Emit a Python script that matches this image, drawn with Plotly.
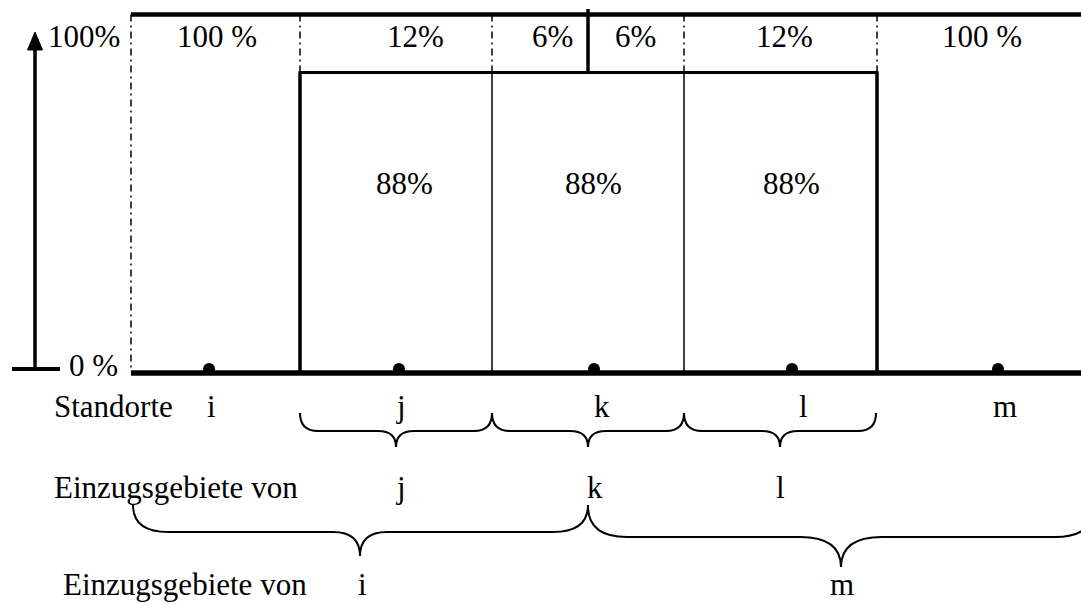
import plotly.graph_objects as go

# ---------------- data (labels / values) ----------------
locations = ["i", "j", "k", "l", "m"]
top_shares = ["100 %", "12%", "6%", "6%", "12%", "100 %"]
inner_shares = ["88%", "88%", "88%"]
axis_labels = ["100%", "0 %"]
row_titles = ["Standorte", "Einzugsgebiete von", "Einzugsgebiete von"]
catch_small = ["j", "k", "l"]
catch_large = ["i", "m"]

# ---------------- diagram geometry (diagram units = px) ----------------
W, H = 1081, 605
Y_TOP, Y_BOX, Y_BASE = 14.5, 72.5, 373
bounds = [131, 300, 492, 684, 877]          # region boundaries
mid_x = 588                                   # split between k's 6% shares
loc_x = [209, 399, 594, 792, 998]             # dots of Standorte
loc_label_x = [211, 401, 602, 803, 1005]
top_label_x = [217, 415, 552, 635, 784, 982]
inner_label_x = [404, 593, 791]
small_label_x = [401, 595, 780]
large_label_x = [362, 842]

FONT = "Liberation Serif, Times New Roman, serif"
FS = 31

fig = go.Figure()

# dots
fig.add_trace(go.Scatter(x=loc_x, y=[369] * len(loc_x), mode="markers",
                         marker=dict(size=12, color="black"),
                         hoverinfo="skip", showlegend=False))

shapes = []


def line(x0, y0, x1, y1, w, dash="solid"):
    shapes.append(dict(type="line", xref="x", yref="y", x0=x0, y0=y0, x1=x1, y1=y1,
                       line=dict(color="black", width=w, dash=dash), layer="above"))


DD = "7px,4px,2px,4px"
# dash-dot verticals in top band and left
line(bounds[0], Y_TOP, bounds[0], Y_BASE - 2, 1.5, DD)
for bx in bounds[1:]:
    line(bx, Y_TOP, bx, Y_BOX, 1.5, DD)

# top & base thick lines
line(bounds[0], Y_TOP, W + 5, Y_TOP, 4.5)
line(bounds[0], Y_BASE, W + 5, Y_BASE, 5.5)

# box
line(bounds[1] - 1.5, Y_BOX, bounds[4] + 1.5, Y_BOX, 3)
line(bounds[1], Y_BOX, bounds[1], Y_BASE, 3.5)
line(bounds[4], Y_BOX, bounds[4], Y_BASE, 3.5)
line(bounds[2], Y_BOX, bounds[2], Y_BASE, 1.5)
line(bounds[3], Y_BOX, bounds[3], Y_BASE, 1.5)
line(mid_x, 9, mid_x, Y_BOX, 3.5)

# left axis arrow
line(35, 369, 35, 46, 3.5)
line(12, 369, 60, 369, 4)
shapes.append(dict(type="path", xref="x", yref="y", path="M 35,32 L 27.5,50 L 42.5,50 Z",
                   fillcolor="black", line=dict(color="black", width=1), layer="above"))


def brace(x0, x1, tip, ytop, ymid, ytip, r1, r2):
    p = (f"M {x0},{ytop} Q {x0},{ymid} {x0 + r1},{ymid} L {tip - r2},{ymid} "
         f"Q {tip},{ymid} {tip},{ytip} Q {tip},{ymid} {tip + r2},{ymid} "
         f"L {x1 - r1},{ymid} Q {x1},{ymid} {x1},{ytop}")
    shapes.append(dict(type="path", xref="x", yref="y", path=p,
                       line=dict(color="black", width=2), layer="above"))


brace(300, 492, 396, 413, 431, 447, 18, 18)
brace(492, 684, 588, 413, 431, 447, 18, 18)
brace(684, 876, 780, 413, 431, 447, 18, 18)
brace(133, 588, 360, 505, 532, 556, 35, 27)
brace(588, 1094, 841, 506, 537, 567, 39, 41)

annotations = []


def text(x, y, s, anchor="center"):
    annotations.append(dict(x=x, y=y, xref="x", yref="y", text=s, showarrow=False,
                            xanchor=anchor, yanchor="middle",
                            font=dict(family=FONT, size=FS, color="black")))


for x, s in zip(top_label_x, top_shares):
    text(x, 36.5, s)
for x, s in zip(inner_label_x, inner_shares):
    text(x, 183, s)
text(46, 36.5, axis_labels[0], "left")
text(67, 365, axis_labels[1], "left")
text(52, 406, row_titles[0], "left")
for x, s in zip(loc_label_x, locations):
    text(x, 406, s)
text(52, 487, row_titles[1], "left")
for x, s in zip(small_label_x, catch_small):
    text(x, 487, s)
text(61, 584, row_titles[2], "left")
for x, s in zip(large_label_x, catch_large):
    text(x, 584, s)

fig.update_layout(
    width=W, height=H,
    margin=dict(l=0, r=0, t=0, b=0),
    paper_bgcolor="white", plot_bgcolor="white",
    xaxis=dict(range=[0, W], visible=False, fixedrange=True),
    yaxis=dict(range=[H, 0], visible=False, fixedrange=True),
    shapes=shapes, annotations=annotations, showlegend=False,
)

fig.write_html("out.html", config={"displayModeBar": False},
               post_script="document.body.style.margin='0';document.body.style.overflow='hidden';")
